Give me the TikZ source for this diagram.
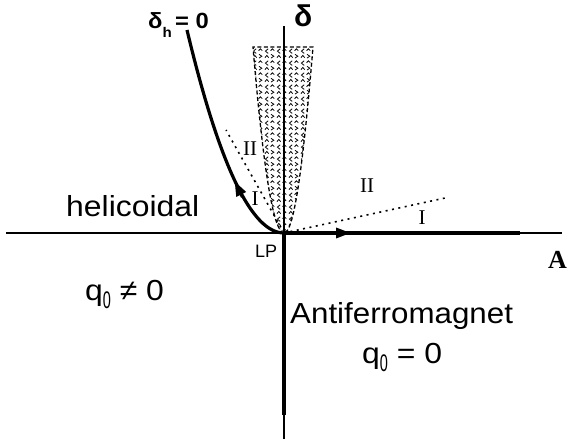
\documentclass[tikz,border=0pt]{standalone}
\usepackage{fontspec}
\setmainfont{Liberation Sans}
\newfontfamily\serifF{Liberation Serif}
\usetikzlibrary{arrows.meta,patterns}
\pgfdeclarepatternformonly{vmarks}{\pgfqpoint{0pt}{0pt}}{\pgfqpoint{12pt}{12pt}}{\pgfqpoint{12pt}{12pt}}{%
  \pgfsetlinewidth{0.85pt}%
  \pgfpathmoveto{\pgfqpoint{4.5pt}{11pt}}\pgfpathlineto{\pgfqpoint{1.5pt}{8.5pt}}\pgfpathlineto{\pgfqpoint{4.5pt}{6pt}}%
  \pgfpathmoveto{\pgfqpoint{7pt}{9pt}}\pgfpathlineto{\pgfqpoint{9pt}{11pt}}\pgfpathlineto{\pgfqpoint{11pt}{9pt}}%
  \pgfpathmoveto{\pgfqpoint{7.5pt}{5pt}}\pgfpathlineto{\pgfqpoint{10.5pt}{3pt}}\pgfpathlineto{\pgfqpoint{7.5pt}{1pt}}%
  \pgfpathmoveto{\pgfqpoint{1pt}{1.5pt}}\pgfpathlineto{\pgfqpoint{3pt}{3.8pt}}\pgfpathlineto{\pgfqpoint{5pt}{1.5pt}}%
  \pgfusepath{stroke}}
\newcommand{\subzero}{\raisebox{-8pt}{\scalebox{0.55}[1]{\fontsize{24}{24}\selectfont 0}}}
\tikzset{
  axthin/.style={line width=1.9pt},
  axmid/.style={line width=2.3pt},
  axthick/.style={line width=3.2pt},
  curvethick/.style={line width=3.2pt},
  dotline/.style={line width=1.6pt, dash pattern=on 2pt off 4.5pt},
  hatchedge/.style={line width=1.3pt, dash pattern=on 4pt off 2.5pt},
  lbl/.style={inner sep=0pt, anchor=base west},
  bigtext/.style={lbl, font=\fontsize{29}{29}\selectfont},
  roman/.style={inner sep=0pt, font=\serifF\fontsize{21}{21}\selectfont},
  tipA/.style={-{Triangle[length=15pt,width=10pt]}}
}
\begin{document}
\begin{tikzpicture}[x=1pt,y=-1pt]
\useasboundingbox (0,0) rectangle (569,443);
% key points
\coordinate (LP) at (284,233);
\coordinate (Vtop) at (284,26);
\coordinate (Vthick) at (284,415);
\coordinate (Vbot) at (284,439);
\coordinate (Hleft) at (6,233);
\coordinate (Hthick) at (520,233);
\coordinate (Hright) at (562,233);
\coordinate (HatchL) at (253,47);
\coordinate (HatchR) at (313,47);
\coordinate (CurveTop) at (187,30);
\coordinate (DotL) at (226,130);
\coordinate (DotR) at (445,198);
% hatched region
\path[pattern=vmarks] (LP) .. controls (273.67,233) and (263.33,171) .. (HatchL) -- (HatchR) .. controls (302.67,171) and (293.67,233) .. (LP) -- cycle;
\draw[hatchedge] (LP) .. controls (273.67,233) and (263.33,171) .. (HatchL) -- (HatchR) .. controls (302.67,171) and (293.67,233) .. (LP);
% dotted lines
\draw[dotline] (LP) -- (DotL);
\draw[dotline] (LP) -- (DotR);
% axes
\draw[axmid] (Vtop) -- (LP);
\draw[axthick] (LP) -- (Vthick);
\draw[axthin] (Vthick) -- (Vbot);
\draw[axmid] (Hleft) -- (LP);
\draw[axthick] (LP) -- (Hthick);
\draw[axthin] (Hthick) -- (Hright);
\coordinate (HarrA) at (330,233);
\coordinate (HarrB) at (351,233);
\draw[axthick, tipA] (HarrA) -- (HarrB);
% delta_h = 0 curve
\draw[curvethick] (LP) .. controls (251.67,233) and (219.33,165.33) .. (CurveTop);
\coordinate (CarrA) at (242.5,197);
\coordinate (CarrB) at (234.5,181);
\draw[curvethick, tipA] (CarrA) -- (CarrB);
% labels
\node[lbl, font=\bfseries\fontsize{30}{30}\selectfont] (delta) at (294,27) {δ};
\node[lbl, font=\bfseries\fontsize{22}{22}\selectfont] (deltah) at (148,29) {\scalebox{1.08}[1]{δ\raisebox{-9pt}{\fontsize{14}{14}\selectfont h}\hspace{3pt}= 0}};
\node[lbl, font=\serifF\bfseries\fontsize{26}{26}\selectfont] (Alab) at (548,269) {A};
\node[lbl, font=\fontsize{18}{18}\selectfont] (LPlab) at (255,258) {LP};
\node[bigtext] (heli) at (66,217) {\scalebox{1.1}[1]{helicoidal}};
\node[bigtext] (qne) at (85,300) {\scalebox{1.1}[1]{q\subzero\ ≠ 0}};
\node[bigtext] (afm) at (290,323) {\scalebox{1.08}[1]{Antiferromagnet}};
\node[bigtext] (qeq) at (362,363) {\scalebox{1.1}[1]{q\subzero\ = 0}};
\node[roman] (IIl) at (250,149) {II};
\node[roman] (Il) at (255,199) {I};
\node[roman] (IIr) at (367,186) {II};
\node[roman] (Ir) at (422,218) {I};
\end{tikzpicture}
\end{document}
